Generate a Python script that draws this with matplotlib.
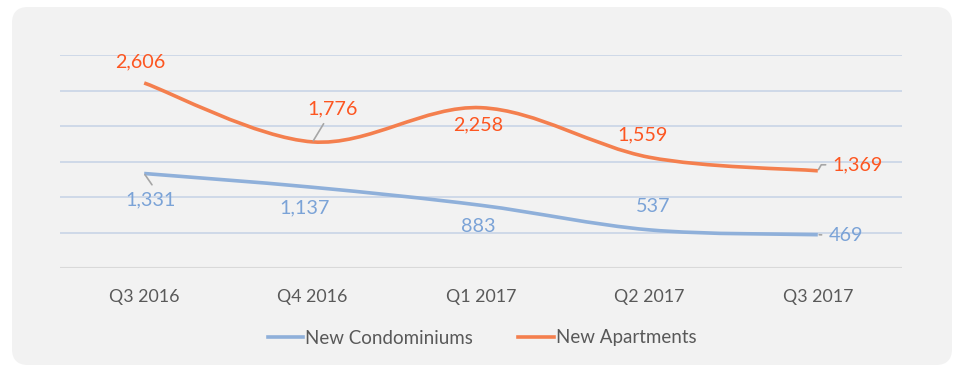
import matplotlib
matplotlib.use("Agg")
import matplotlib.pyplot as plt
from matplotlib.path import Path
from matplotlib.patches import PathPatch, FancyBboxPatch
from matplotlib.transforms import IdentityTransform
from matplotlib.lines import Line2D

categories = ["Q3 2016", "Q4 2016", "Q1 2017", "Q2 2017", "Q3 2017"]
condos = [1331, 1137, 883, 537, 469]
apartments = [2606, 1776, 2258, 1559, 1369]

plt.rcParams['font.family'] = ['Lato', 'DejaVu Sans']

W, H, DPI = 966, 372, 100
fig = plt.figure(figsize=(W / DPI, H / DPI), dpi=DPI)
fig.patch.set_facecolor("white")

panel = FancyBboxPatch((12, 7), 940, 358, boxstyle="round,pad=0,rounding_size=16",
                       transform=IdentityTransform(), facecolor="#f2f2f2",
                       edgecolor="none", zorder=-10)
fig.patches.append(panel)

ax = fig.add_axes([60 / W, 104 / H, 842 / W, 213 / H])
ax.set_facecolor("none")
ax.set_zorder(1)
ax.set_xlim(-0.5, 4.5)
ax.set_ylim(0, 3000)
for s in ax.spines.values():
    s.set_visible(False)
ax.set_yticks([500, 1000, 1500, 2000, 2500, 3000])
ax.yaxis.grid(True, color="#c9d5e6", linewidth=1.2)
ax.set_axisbelow(True)
ax.tick_params(axis="y", left=False, labelleft=False)
ax.axhline(0, color="#d9d9d9", linewidth=1.5, zorder=1)
ax.set_xticks(range(len(categories)))
ax.set_xticklabels(categories, fontsize=12.8, color="#595959")
ax.tick_params(axis="x", length=0, pad=15)


def smooth_path(xs, ys):
    pts = list(zip(xs, ys))
    n = len(pts)
    verts = [pts[0]]
    codes = [Path.MOVETO]
    for i in range(n - 1):
        p0 = pts[i - 1] if i > 0 else pts[i]
        p1 = pts[i]
        p2 = pts[i + 1]
        p3 = pts[i + 2] if i + 2 < n else pts[i + 1]
        c1 = (p1[0] + (p2[0] - p0[0]) / 6, p1[1] + (p2[1] - p0[1]) / 6)
        c2 = (p2[0] - (p3[0] - p1[0]) / 6, p2[1] - (p3[1] - p1[1]) / 6)
        verts += [c1, c2, p2]
        codes += [Path.CURVE4] * 3
    return Path(verts, codes)


xs = list(range(len(categories)))
blue_line = "#8fb0da"
orange_line = "#f47f4e"
blue_text = "#7ba3d7"
orange_text = "#fd5621"

ax.add_patch(PathPatch(smooth_path(xs, condos), facecolor="none",
                       edgecolor=blue_line, linewidth=2.6, capstyle="butt", zorder=3))
ax.add_patch(PathPatch(smooth_path(xs, apartments), facecolor="none",
                       edgecolor=orange_line, linewidth=2.6, capstyle="butt", zorder=3))

apt_offsets = [(-4, 21), (20, 33), (-3, -17), (-7, 22), (40, 6)]
apt_leader = [None, "arc3", None, None, "angle,angleA=0,angleB=60,rad=0"]
apt_relpos = [None, (0.5, 0.5), None, None, (0.5, 0.5)]
con_offsets = [(6, -26), (-8, -21), (-3, -21), (4, 23), (28, -1)]
con_leader = ["arc3", None, None, None, "arc3"]
con_relpos = [(0.62, 1.0), None, None, None, (0.5, 0.5)]

leader_color = "#a6a6a6"


def label(values, offsets, leaders, relposs, color):
    for x, v, off, ld, rp in zip(xs, values, offsets, leaders, relposs):
        kw = {}
        if ld:
            kw["arrowprops"] = dict(arrowstyle="-", color=leader_color, lw=1.2,
                                    shrinkA=3, shrinkB=1, connectionstyle=ld,
                                    relpos=rp)
        ax.annotate(f"{v:,}", (x, v), xytext=off, textcoords="offset pixels",
                    ha="center", va="center", fontsize=14.2, color=color,
                    zorder=5, **kw)


label(apartments, apt_offsets, apt_leader, apt_relpos, orange_text)
label(condos, con_offsets, con_leader, con_relpos, blue_text)

handles = [Line2D([], [], color=blue_line, lw=2.6),
           Line2D([], [], color=orange_line, lw=2.6)]
fig.legend(handles, ["New Condominiums", "New Apartments"], loc="center",
           bbox_to_anchor=(482 / W, 1 - 338 / H), ncol=2, frameon=False,
           fontsize=13.5, labelcolor="#595959", handlelength=1.9,
           handletextpad=0.1, columnspacing=2.4)

fig.savefig("out.png", dpi=DPI, facecolor="white")
